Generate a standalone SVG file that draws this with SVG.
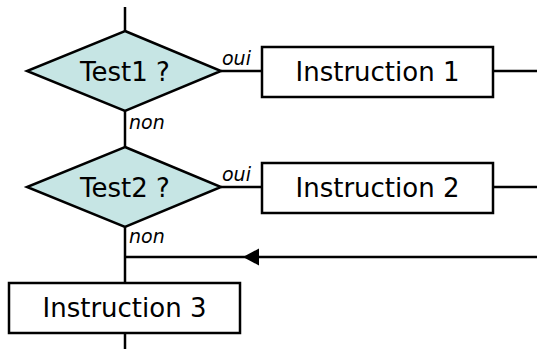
<svg xmlns="http://www.w3.org/2000/svg" width="537" height="349" viewBox="0 0 537 349">
<defs>
<marker id="arr" markerWidth="16" markerHeight="17" refX="0" refY="8.5" orient="auto" markerUnits="userSpaceOnUse">
<path d="M0,8.5 L16,0 L16,17 Z" fill="#000"/>
</marker>
</defs>
<style>
.ln{stroke:#000;stroke-width:2.5;fill:none}
.dia{fill:#c6e5e4;stroke:#000;stroke-width:2.5}
.box{fill:#fff;stroke:#000;stroke-width:2.5}
.t{font-family:"DejaVu Sans",sans-serif;font-size:26px;text-anchor:middle;fill:#000}
.lab{font-family:"DejaVu Sans",sans-serif;font-size:19px;font-style:italic;fill:#000}
</style>
<g id="connectors">
<line class="ln" x1="125" y1="7" x2="125" y2="31"/>
<line class="ln" x1="221" y1="71" x2="262" y2="71"/>
<line class="ln" x1="493" y1="71" x2="537" y2="71"/>
<line class="ln" x1="125" y1="111" x2="125" y2="147"/>
<line class="ln" x1="221" y1="187" x2="262" y2="187"/>
<line class="ln" x1="493" y1="187" x2="537" y2="187"/>
<line class="ln" x1="125" y1="227" x2="125" y2="283"/>
<line class="ln" x1="537" y1="257" x2="125" y2="257"/>
<path d="M243,257 L259,248.5 L259,265.5 Z" fill="#000"/>
<line class="ln" x1="125" y1="333" x2="125" y2="349"/>
<text class="lab" x="222" y="65">oui</text>
<text class="lab" x="222" y="181">oui</text>
<text class="lab" x="129" y="129">non</text>
<text class="lab" x="129" y="243">non</text>
</g>
<g id="test1">
<polygon class="dia" points="125,31 221,71 125,111 27,71"/>
<text class="t" x="125" y="81">Test1 ?</text>
</g>
<g id="instruction1">
<rect class="box" x="262" y="47" width="231" height="50"/>
<text class="t" x="377.5" y="81">Instruction 1</text>
</g>
<g id="test2">
<polygon class="dia" points="125,147 221,187 125,227 27,187"/>
<text class="t" x="125" y="197">Test2 ?</text>
</g>
<g id="instruction2">
<rect class="box" x="262" y="163" width="231" height="50"/>
<text class="t" x="377.5" y="197">Instruction 2</text>
</g>
<g id="instruction3">
<rect class="box" x="9" y="283" width="231" height="50"/>
<text class="t" x="124.5" y="317">Instruction 3</text>
</g>
</svg>
